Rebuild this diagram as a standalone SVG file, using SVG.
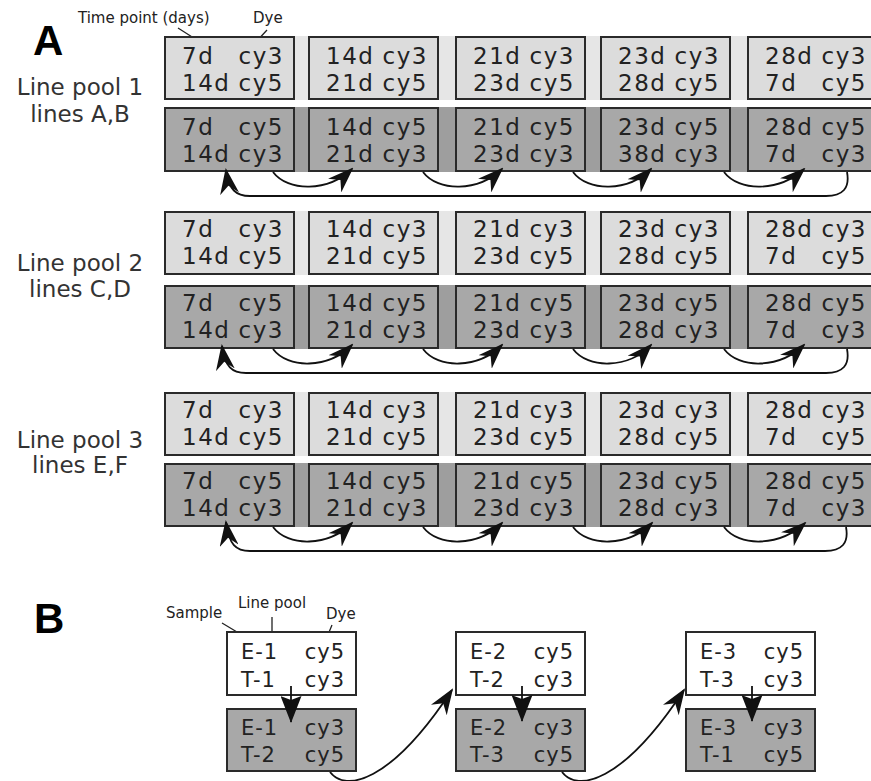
<svg xmlns="http://www.w3.org/2000/svg" width="871" height="781" viewBox="0 0 871 781">
<style>
.bl{fill:#dcdcdc;stroke:#2a2a2a;stroke-width:2}
.bd{fill:#a8a8a8;stroke:#2a2a2a;stroke-width:2}
.bw{fill:#ffffff;stroke:#2a2a2a;stroke-width:2}
.sl{fill:#e6e6e6}
.sd{fill:#9e9e9e}
text{font-family:"DejaVu Sans","Liberation Sans",sans-serif;fill:#222}
.t{font-size:23px;letter-spacing:1.5px}
.tb{font-size:21px;letter-spacing:1px}
.e{text-anchor:end}
.lab{font-size:23px;text-anchor:middle;fill:#333}
.ann{font-size:15px}
.big{font-family:"Liberation Sans",Arial,sans-serif;font-size:42px;font-weight:bold;fill:#000}
.ptr{stroke:#222;stroke-width:1.3;fill:none}
.conn{fill:none;stroke:#111;stroke-width:1.8}
</style>
<defs>
<marker id="ah" markerWidth="26" markerHeight="19" refX="24" refY="9.5" orient="auto" markerUnits="userSpaceOnUse" viewBox="0 0 26 19"><path d="M0,0 L26,9.5 L0,19 L8,9.5 Z" fill="#111"/></marker>
<marker id="ad" markerWidth="27" markerHeight="21" refX="26" refY="10.5" orient="auto" markerUnits="userSpaceOnUse" viewBox="0 0 27 21"><path d="M0,0 L27,10.5 L0,21 L4,10.5 Z" fill="#111"/></marker>
</defs>
<rect width="871" height="781" fill="#ffffff"/>

<!-- strips -->
<rect class="sl" x="165" y="36" width="706" height="64"/>
<rect class="sd" x="165" y="107" width="706" height="65"/>
<rect class="sl" x="165" y="211" width="706" height="64"/>
<rect class="sd" x="165" y="285" width="706" height="64"/>
<rect class="sl" x="165" y="392" width="706" height="64"/>
<rect class="sd" x="165" y="463" width="706" height="64"/>

<!-- Section A labels -->
<text class="big" x="33" y="55">A</text>
<text class="ann" x="78" y="23">Time point (days)</text>
<text class="ann" x="253" y="23">Dye</text>
<path class="ptr" d="M178,28 L200,42 M267,30 L255,43"/>
<text class="lab" x="80" y="95">Line pool 1</text>
<text class="lab" x="80" y="122">lines A,B</text>
<text class="lab" x="80" y="271">Line pool 2</text>
<text class="lab" x="80" y="297">lines C,D</text>
<text class="lab" x="80" y="448">Line pool 3</text>
<text class="lab" x="80" y="473">lines E,F</text>

<!-- Pool 1 top -->
<g id="p1-t1"><rect class="bl" x="165" y="37" width="129" height="62"/><text class="t" x="182" y="64">7d</text><text class="t e" x="284" y="64">cy3</text><text class="t" x="182" y="91">14d</text><text class="t e" x="284" y="91">cy5</text></g>
<g id="p1-t2"><rect class="bl" x="309" y="37" width="129" height="62"/><text class="t" x="326" y="64">14d</text><text class="t e" x="428" y="64">cy3</text><text class="t" x="326" y="91">21d</text><text class="t e" x="428" y="91">cy5</text></g>
<g id="p1-t3"><rect class="bl" x="456" y="37" width="129" height="62"/><text class="t" x="473" y="64">21d</text><text class="t e" x="575" y="64">cy3</text><text class="t" x="473" y="91">23d</text><text class="t e" x="575" y="91">cy5</text></g>
<g id="p1-t4"><rect class="bl" x="601" y="37" width="129" height="62"/><text class="t" x="618" y="64">23d</text><text class="t e" x="720" y="64">cy3</text><text class="t" x="618" y="91">28d</text><text class="t e" x="720" y="91">cy5</text></g>
<g id="p1-t5"><rect class="bl" x="748" y="37" width="129" height="62"/><text class="t" x="765" y="64">28d</text><text class="t e" x="867" y="64">cy3</text><text class="t" x="765" y="91">7d</text><text class="t e" x="867" y="91">cy5</text></g>
<!-- Pool 1 bottom -->
<g id="p1-b1"><rect class="bd" x="165" y="108" width="129" height="63"/><text class="t" x="182" y="135">7d</text><text class="t e" x="284" y="135">cy5</text><text class="t" x="182" y="162">14d</text><text class="t e" x="284" y="162">cy3</text></g>
<g id="p1-b2"><rect class="bd" x="309" y="108" width="129" height="63"/><text class="t" x="326" y="135">14d</text><text class="t e" x="428" y="135">cy5</text><text class="t" x="326" y="162">21d</text><text class="t e" x="428" y="162">cy3</text></g>
<g id="p1-b3"><rect class="bd" x="456" y="108" width="129" height="63"/><text class="t" x="473" y="135">21d</text><text class="t e" x="575" y="135">cy5</text><text class="t" x="473" y="162">23d</text><text class="t e" x="575" y="162">cy3</text></g>
<g id="p1-b4"><rect class="bd" x="601" y="108" width="129" height="63"/><text class="t" x="618" y="135">23d</text><text class="t e" x="720" y="135">cy5</text><text class="t" x="618" y="162">38d</text><text class="t e" x="720" y="162">cy3</text></g>
<g id="p1-b5"><rect class="bd" x="748" y="108" width="129" height="63"/><text class="t" x="765" y="135">28d</text><text class="t e" x="867" y="135">cy5</text><text class="t" x="765" y="162">7d</text><text class="t e" x="867" y="162">cy3</text></g>

<!-- Pool 2 top -->
<g id="p2-t1"><rect class="bl" x="165" y="212" width="129" height="62"/><text class="t" x="182" y="237">7d</text><text class="t e" x="284" y="237">cy3</text><text class="t" x="182" y="264">14d</text><text class="t e" x="284" y="264">cy5</text></g>
<g id="p2-t2"><rect class="bl" x="309" y="212" width="129" height="62"/><text class="t" x="326" y="237">14d</text><text class="t e" x="428" y="237">cy3</text><text class="t" x="326" y="264">21d</text><text class="t e" x="428" y="264">cy5</text></g>
<g id="p2-t3"><rect class="bl" x="456" y="212" width="129" height="62"/><text class="t" x="473" y="237">21d</text><text class="t e" x="575" y="237">cy3</text><text class="t" x="473" y="264">23d</text><text class="t e" x="575" y="264">cy5</text></g>
<g id="p2-t4"><rect class="bl" x="601" y="212" width="129" height="62"/><text class="t" x="618" y="237">23d</text><text class="t e" x="720" y="237">cy3</text><text class="t" x="618" y="264">28d</text><text class="t e" x="720" y="264">cy5</text></g>
<g id="p2-t5"><rect class="bl" x="748" y="212" width="129" height="62"/><text class="t" x="765" y="237">28d</text><text class="t e" x="867" y="237">cy3</text><text class="t" x="765" y="264">7d</text><text class="t e" x="867" y="264">cy5</text></g>
<!-- Pool 2 bottom -->
<g id="p2-b1"><rect class="bd" x="165" y="286" width="129" height="62"/><text class="t" x="182" y="311">7d</text><text class="t e" x="284" y="311">cy5</text><text class="t" x="182" y="338">14d</text><text class="t e" x="284" y="338">cy3</text></g>
<g id="p2-b2"><rect class="bd" x="309" y="286" width="129" height="62"/><text class="t" x="326" y="311">14d</text><text class="t e" x="428" y="311">cy5</text><text class="t" x="326" y="338">21d</text><text class="t e" x="428" y="338">cy3</text></g>
<g id="p2-b3"><rect class="bd" x="456" y="286" width="129" height="62"/><text class="t" x="473" y="311">21d</text><text class="t e" x="575" y="311">cy5</text><text class="t" x="473" y="338">23d</text><text class="t e" x="575" y="338">cy3</text></g>
<g id="p2-b4"><rect class="bd" x="601" y="286" width="129" height="62"/><text class="t" x="618" y="311">23d</text><text class="t e" x="720" y="311">cy5</text><text class="t" x="618" y="338">28d</text><text class="t e" x="720" y="338">cy3</text></g>
<g id="p2-b5"><rect class="bd" x="748" y="286" width="129" height="62"/><text class="t" x="765" y="311">28d</text><text class="t e" x="867" y="311">cy5</text><text class="t" x="765" y="338">7d</text><text class="t e" x="867" y="338">cy3</text></g>

<!-- Pool 3 top -->
<g id="p3-t1"><rect class="bl" x="165" y="393" width="129" height="62"/><text class="t" x="182" y="418">7d</text><text class="t e" x="284" y="418">cy3</text><text class="t" x="182" y="445">14d</text><text class="t e" x="284" y="445">cy5</text></g>
<g id="p3-t2"><rect class="bl" x="309" y="393" width="129" height="62"/><text class="t" x="326" y="418">14d</text><text class="t e" x="428" y="418">cy3</text><text class="t" x="326" y="445">21d</text><text class="t e" x="428" y="445">cy5</text></g>
<g id="p3-t3"><rect class="bl" x="456" y="393" width="129" height="62"/><text class="t" x="473" y="418">21d</text><text class="t e" x="575" y="418">cy3</text><text class="t" x="473" y="445">23d</text><text class="t e" x="575" y="445">cy5</text></g>
<g id="p3-t4"><rect class="bl" x="601" y="393" width="129" height="62"/><text class="t" x="618" y="418">23d</text><text class="t e" x="720" y="418">cy3</text><text class="t" x="618" y="445">28d</text><text class="t e" x="720" y="445">cy5</text></g>
<g id="p3-t5"><rect class="bl" x="748" y="393" width="129" height="62"/><text class="t" x="765" y="418">28d</text><text class="t e" x="867" y="418">cy3</text><text class="t" x="765" y="445">7d</text><text class="t e" x="867" y="445">cy5</text></g>
<!-- Pool 3 bottom -->
<g id="p3-b1"><rect class="bd" x="165" y="464" width="129" height="62"/><text class="t" x="182" y="489">7d</text><text class="t e" x="284" y="489">cy5</text><text class="t" x="182" y="516">14d</text><text class="t e" x="284" y="516">cy3</text></g>
<g id="p3-b2"><rect class="bd" x="309" y="464" width="129" height="62"/><text class="t" x="326" y="489">14d</text><text class="t e" x="428" y="489">cy5</text><text class="t" x="326" y="516">21d</text><text class="t e" x="428" y="516">cy3</text></g>
<g id="p3-b3"><rect class="bd" x="456" y="464" width="129" height="62"/><text class="t" x="473" y="489">21d</text><text class="t e" x="575" y="489">cy5</text><text class="t" x="473" y="516">23d</text><text class="t e" x="575" y="516">cy3</text></g>
<g id="p3-b4"><rect class="bd" x="601" y="464" width="129" height="62"/><text class="t" x="618" y="489">23d</text><text class="t e" x="720" y="489">cy5</text><text class="t" x="618" y="516">28d</text><text class="t e" x="720" y="516">cy3</text></g>
<g id="p3-b5"><rect class="bd" x="748" y="464" width="129" height="62"/><text class="t" x="765" y="489">28d</text><text class="t e" x="867" y="489">cy5</text><text class="t" x="765" y="516">7d</text><text class="t e" x="867" y="516">cy3</text></g>

<!-- Section B -->
<text class="big" x="34" y="633">B</text>
<text class="ann" x="166" y="618">Sample</text>
<text class="ann" x="238" y="608">Line pool</text>
<text class="ann" x="326" y="619">Dye</text>
<path class="ptr" d="M222,623 L242,635 M272,617 L272,637 M332,625 L327,637"/>

<g id="b-t1"><rect class="bw" x="227" y="632" width="129" height="63"/><text class="tb" x="241" y="659">E-1</text><text class="tb e" x="345" y="659">cy5</text><text class="tb" x="241" y="687">T-1</text><text class="tb e" x="345" y="687">cy3</text></g>
<g id="b-b1"><rect class="bd" x="227" y="709" width="129" height="62"/><text class="tb" x="241" y="735">E-1</text><text class="tb e" x="345" y="735">cy3</text><text class="tb" x="241" y="762">T-2</text><text class="tb e" x="345" y="762">cy5</text></g>
<g id="b-t2"><rect class="bw" x="456" y="632" width="129" height="63"/><text class="tb" x="470" y="659">E-2</text><text class="tb e" x="574" y="659">cy5</text><text class="tb" x="470" y="687">T-2</text><text class="tb e" x="574" y="687">cy3</text></g>
<g id="b-b2"><rect class="bd" x="456" y="709" width="129" height="62"/><text class="tb" x="470" y="735">E-2</text><text class="tb e" x="574" y="735">cy3</text><text class="tb" x="470" y="762">T-3</text><text class="tb e" x="574" y="762">cy5</text></g>
<g id="b-t3"><rect class="bw" x="686" y="632" width="129" height="63"/><text class="tb" x="700" y="659">E-3</text><text class="tb e" x="804" y="659">cy5</text><text class="tb" x="700" y="687">T-3</text><text class="tb e" x="804" y="687">cy3</text></g>
<g id="b-b3"><rect class="bd" x="686" y="709" width="129" height="62"/><text class="tb" x="700" y="735">E-3</text><text class="tb e" x="804" y="735">cy3</text><text class="tb" x="700" y="762">T-1</text><text class="tb e" x="804" y="762">cy5</text></g>

<!-- connectors -->
<g id="connectors" class="conn">
<path marker-end="url(#ah)" d="M273,172 C288,192 328,192 352,169"/>
<path marker-end="url(#ah)" d="M423,172 C438,192 478,192 502,169"/>
<path marker-end="url(#ah)" d="M573,172 C588,192 628,192 651,169"/>
<path marker-end="url(#ah)" d="M724,172 C739,192 779,192 804,169"/>
<path marker-end="url(#ah)" d="M847,172 C850,188 843,196 826,196 L250,196 C236,196 229,190 226,170"/>

<path marker-end="url(#ah)" d="M273,349 C288,369 328,369 352,345"/>
<path marker-end="url(#ah)" d="M423,349 C438,369 478,369 502,345"/>
<path marker-end="url(#ah)" d="M573,349 C588,369 628,369 651,345"/>
<path marker-end="url(#ah)" d="M724,349 C739,369 779,369 804,345"/>
<path marker-end="url(#ah)" d="M847,349 C850,365 843,373 826,373 L246,373 C232,373 225,367 222,346"/>

<path marker-end="url(#ah)" d="M273,527 C288,547 328,547 352,523"/>
<path marker-end="url(#ah)" d="M423,527 C438,547 478,547 502,523"/>
<path marker-end="url(#ah)" d="M573,527 C588,547 628,547 652,523"/>
<path marker-end="url(#ah)" d="M724,527 C739,547 779,547 805,523"/>
<path marker-end="url(#ah)" d="M846,527 C849,543 842,551 825,551 L250,551 C236,551 229,545 226,522"/>

<path marker-end="url(#ad)" d="M291,686 L291,722"/>
<path marker-end="url(#ad)" d="M522,686 L522,721"/>
<path marker-end="url(#ad)" d="M752,686 L752,721"/>
<path marker-end="url(#ah)" d="M330,772 C345,792 390,784 452,690"/>
<path marker-end="url(#ah)" d="M562,772 C577,792 622,784 684,690"/>
</g>
</svg>
